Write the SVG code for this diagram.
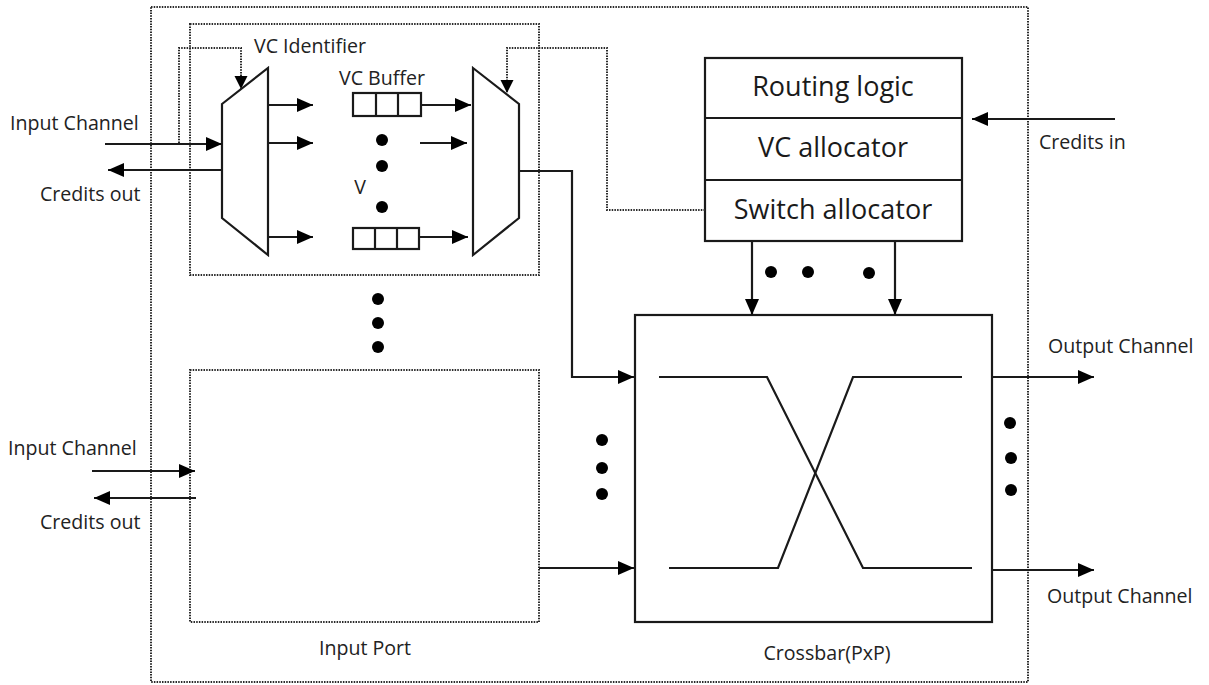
<svg xmlns="http://www.w3.org/2000/svg" width="1209" height="685" viewBox="0 0 1209 685">
<style>
.s{fill:none;stroke:#1a1a1a;stroke-width:2.2}
.d{fill:none;stroke:#2a2a2a;stroke-width:2;stroke-dasharray:1.5 1.2}
.b{fill:#fff;stroke:#1a1a1a;stroke-width:2.2}
.t{font-family:"Open Sans","Noto Sans",sans-serif;font-size:19.6px;fill:#222}
.tl{font-family:"Open Sans","Noto Sans",sans-serif;font-size:27px;fill:#1a1a1a;text-anchor:middle}
.dot{fill:#000}
</style>
<defs>
<marker id="arr" markerUnits="userSpaceOnUse" markerWidth="17" markerHeight="15" refX="16" refY="7" orient="auto"><path d="M0,0 L16,7 L0,14 z" fill="#000"/></marker>
<marker id="arrS" markerUnits="userSpaceOnUse" markerWidth="14" markerHeight="14" refX="13" refY="6.5" orient="auto"><path d="M0,0 L13,6.5 L0,13 z" fill="#000"/></marker>
</defs>
<rect width="1209" height="685" fill="#fff"/>

<g id="router">
<rect class="d" x="151" y="7" width="877" height="675"/>
</g>

<g id="input-port-1">
<rect class="d" x="190" y="24" width="349" height="251"/>
<text class="t" x="254" y="53">VC Identifier</text>
</g>

<g id="demux">
<polygon class="b" points="222,104 268,68 268,255 222,218"/>
</g>

<g id="vc-buffers">
<text class="t" x="382" y="85" text-anchor="middle">VC Buffer</text>
<rect class="b" x="353" y="93" width="68" height="23"/>
<line class="s" x1="376" y1="93" x2="376" y2="116"/>
<line class="s" x1="398" y1="93" x2="398" y2="116"/>
<rect class="b" x="353" y="228" width="66" height="21"/>
<line class="s" x1="375" y1="228" x2="375" y2="249"/>
<line class="s" x1="397" y1="228" x2="397" y2="249"/>
<circle class="dot" cx="382" cy="140" r="6"/>
<circle class="dot" cx="382" cy="166" r="6"/>
<circle class="dot" cx="382" cy="207" r="6"/>
<text class="t" x="360" y="194" text-anchor="middle">V</text>
</g>

<g id="mux">
<polygon class="b" points="473,68 519,104 519,218 473,255"/>
</g>

<g id="port-dots">
<circle class="dot" cx="378" cy="299" r="6"/>
<circle class="dot" cx="378" cy="323" r="6"/>
<circle class="dot" cx="378" cy="347" r="6"/>
</g>

<g id="input-port-2">
<rect class="d" x="190" y="370" width="349" height="252"/>
<text class="t" x="365" y="655" text-anchor="middle">Input Port</text>
</g>

<g id="allocators">
<rect class="b" x="705" y="58" width="257" height="183"/>
<line class="s" x1="705" y1="118" x2="962" y2="118"/>
<line class="s" x1="705" y1="180" x2="962" y2="180"/>
<text class="tl" x="833" y="96">Routing logic</text>
<text class="tl" x="833" y="157">VC allocator</text>
<text class="tl" x="833" y="219">Switch allocator</text>
</g>

<g id="crossbar">
<rect class="b" x="635" y="315" width="357" height="307"/>
<polyline class="s" points="659,377 767,377 863,568 972,568"/>
<polyline class="s" points="669,568 778,568 853,377 962,377"/>
<text class="t" x="827" y="660" text-anchor="middle">Crossbar(PxP)</text>
</g>

<g id="labels">
<text class="t" x="10" y="130">Input Channel</text>
<text class="t" x="40" y="201">Credits out</text>
<text class="t" x="8" y="455">Input Channel</text>
<text class="t" x="40" y="529">Credits out</text>
<text class="t" x="1039" y="149">Credits in</text>
<text class="t" x="1048" y="353">Output Channel</text>
<text class="t" x="1047" y="603">Output Channel</text>
</g>

<g id="dots">
<circle class="dot" cx="771" cy="272" r="6"/>
<circle class="dot" cx="808" cy="272" r="6"/>
<circle class="dot" cx="869" cy="273" r="6"/>
<circle class="dot" cx="602" cy="440" r="6"/>
<circle class="dot" cx="602" cy="468" r="6"/>
<circle class="dot" cx="602" cy="494" r="6"/>
<circle class="dot" cx="1010" cy="423" r="6"/>
<circle class="dot" cx="1011" cy="458" r="6"/>
<circle class="dot" cx="1011" cy="490" r="6"/>
</g>

<g id="connectors">
<line class="s" x1="105" y1="144" x2="222" y2="144" marker-end="url(#arr)"/>
<line class="s" x1="222" y1="170" x2="108" y2="170" marker-end="url(#arr)"/>
<path class="d" d="M179,143 V48 H241 V89" marker-end="url(#arrS)"/>
<line class="s" x1="268" y1="105" x2="313" y2="105" marker-end="url(#arr)"/>
<line class="s" x1="268" y1="143" x2="313" y2="143" marker-end="url(#arr)"/>
<line class="s" x1="268" y1="237" x2="313" y2="237" marker-end="url(#arr)"/>
<line class="s" x1="421" y1="105" x2="471" y2="105" marker-end="url(#arr)"/>
<line class="s" x1="420" y1="143" x2="467" y2="143" marker-end="url(#arr)"/>
<line class="s" x1="419" y1="237" x2="468" y2="237" marker-end="url(#arr)"/>
<path class="d" d="M705,210 H607 V48 H507 V93" marker-end="url(#arrS)"/>
<path class="s" d="M519,171 H572 V377 H634" marker-end="url(#arr)"/>
<line class="s" x1="539" y1="568" x2="634" y2="568" marker-end="url(#arr)"/>
<line class="s" x1="92" y1="471" x2="195" y2="471" marker-end="url(#arr)"/>
<line class="s" x1="196" y1="498" x2="94" y2="498" marker-end="url(#arr)"/>
<line class="s" x1="752" y1="241" x2="752" y2="315" marker-end="url(#arr)"/>
<line class="s" x1="895" y1="241" x2="895" y2="315" marker-end="url(#arr)"/>
<line class="s" x1="1115" y1="119" x2="972" y2="119" marker-end="url(#arr)"/>
<line class="s" x1="992" y1="377" x2="1094" y2="377" marker-end="url(#arr)"/>
<line class="s" x1="992" y1="570" x2="1094" y2="570" marker-end="url(#arr)"/>
</g>
</svg>
